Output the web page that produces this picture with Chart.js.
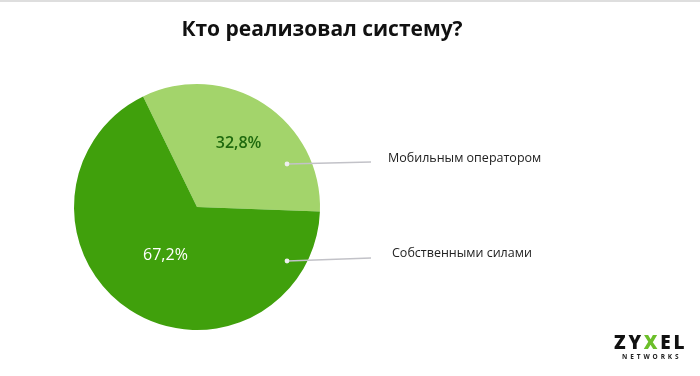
<!DOCTYPE html>
<html lang="ru">
<head>
<meta charset="utf-8"/>
<title>Кто реализовал систему?</title>
<script src="https://cdn.jsdelivr.net/npm/chart.js"></script>
<style>
html, body { margin: 0; padding: 0; background: #ffffff; }
#wrap { width: 700px; height: 376px; position: relative; }
</style>
</head>
<body>
<div id="wrap"><canvas id="pie" width="700" height="376"></canvas></div>
<script>
const chartTitle = "Кто реализовал систему?";
const categories = ["Мобильным оператором", "Собственными силами"];
const shares = [32.8, 67.2];
const valueLabels = ["32,8%", "67,2%"];
const sliceColors = ["#a3d46b", "#40a00c"];
const valueColors = ["#1f6a0e", "#ffffff"];

// radial position of the percent label, as a share of the radius
const labelRadius = [0.62, 0.47];

const overlay = {
  id: "overlay",
  afterDraw(chart) {
    const ctx = chart.ctx;
    const arcs = chart.getDatasetMeta(0).data;
    ctx.save();

    // thin frame line at the top
    ctx.fillStyle = "#dedede";
    ctx.fillRect(0, 0, 700, 2);

    // title
    ctx.fillStyle = "#111111";
    ctx.font = "bold 21px 'Open Sans', sans-serif";
    ctx.textAlign = "center";
    ctx.textBaseline = "middle";
    ctx.fillText(chartTitle, 322, 30);

    arcs.forEach((arc, i) => {
      const p = arc.getProps(["x", "y", "startAngle", "endAngle", "outerRadius"], true);
      const mid = (p.startAngle + p.endAngle) / 2;
      const lx = p.x + Math.cos(mid) * p.outerRadius * labelRadius[i];
      const ly = p.y + Math.sin(mid) * p.outerRadius * labelRadius[i];
      ctx.fillStyle = valueColors[i];
      ctx.font = (i === 0 ? "600 " : "500 ") + "16px 'Open Sans', sans-serif";
      ctx.textAlign = "center";
      ctx.fillText(valueLabels[i], lx, ly);
    });

    // leader lines with dots, then category names
    const dotX = 287;
    const dotY = [164, 261];
    const endY = [162, 258];
    const textY = [158, 253];
    categories.forEach((name, i) => {
      ctx.strokeStyle = "#c2c2c8";
      ctx.lineWidth = 1.5;
      ctx.beginPath();
      ctx.moveTo(dotX, dotY[i]);
      ctx.lineTo(371, endY[i]);
      ctx.stroke();
      ctx.fillStyle = "#eeeeee";
      ctx.beginPath();
      ctx.arc(dotX, dotY[i], 2.4, 0, Math.PI * 2);
      ctx.fill();
      ctx.fillStyle = "#222222";
      ctx.font = "12.5px 'Open Sans', sans-serif";
      ctx.textAlign = "left";
      ctx.fillText(name, i === 0 ? 388 : 392, textY[i]);
    });

    // logo
    ctx.textAlign = "left";
    ctx.textBaseline = "alphabetic";
    ctx.font = "800 19px 'Open Sans', sans-serif";
    let x = 614;
    ["Z", "Y", "X", "E", "L"].forEach(ch => {
      ctx.fillStyle = ch === "X" ? "#6cbf2a" : "#111111";
      ctx.fillText(ch, x, 349);
      x += ctx.measureText(ch).width + 2.8;
    });
    ctx.fillStyle = "#222222";
    ctx.font = "bold 6.5px 'Open Sans', sans-serif";
    x = 622;
    "NETWORKS".split("").forEach(ch => {
      ctx.fillText(ch, x, 359);
      x += ctx.measureText(ch).width + 2.9;
    });

    ctx.restore();
  }
};

new Chart(document.getElementById("pie"), {
  type: "pie",
  data: {
    labels: categories,
    datasets: [{
      data: shares,
      backgroundColor: sliceColors,
      borderWidth: 0
    }]
  },
  options: {
    responsive: false,
    animation: false,
    rotation: -26,
    layout: { padding: { left: 74, right: 380, top: 84, bottom: 46 } },
    plugins: {
      legend: { display: false },
      title: { display: false },
      tooltip: { enabled: false }
    }
  },
  plugins: [overlay]
});
</script>
</body>
</html>
